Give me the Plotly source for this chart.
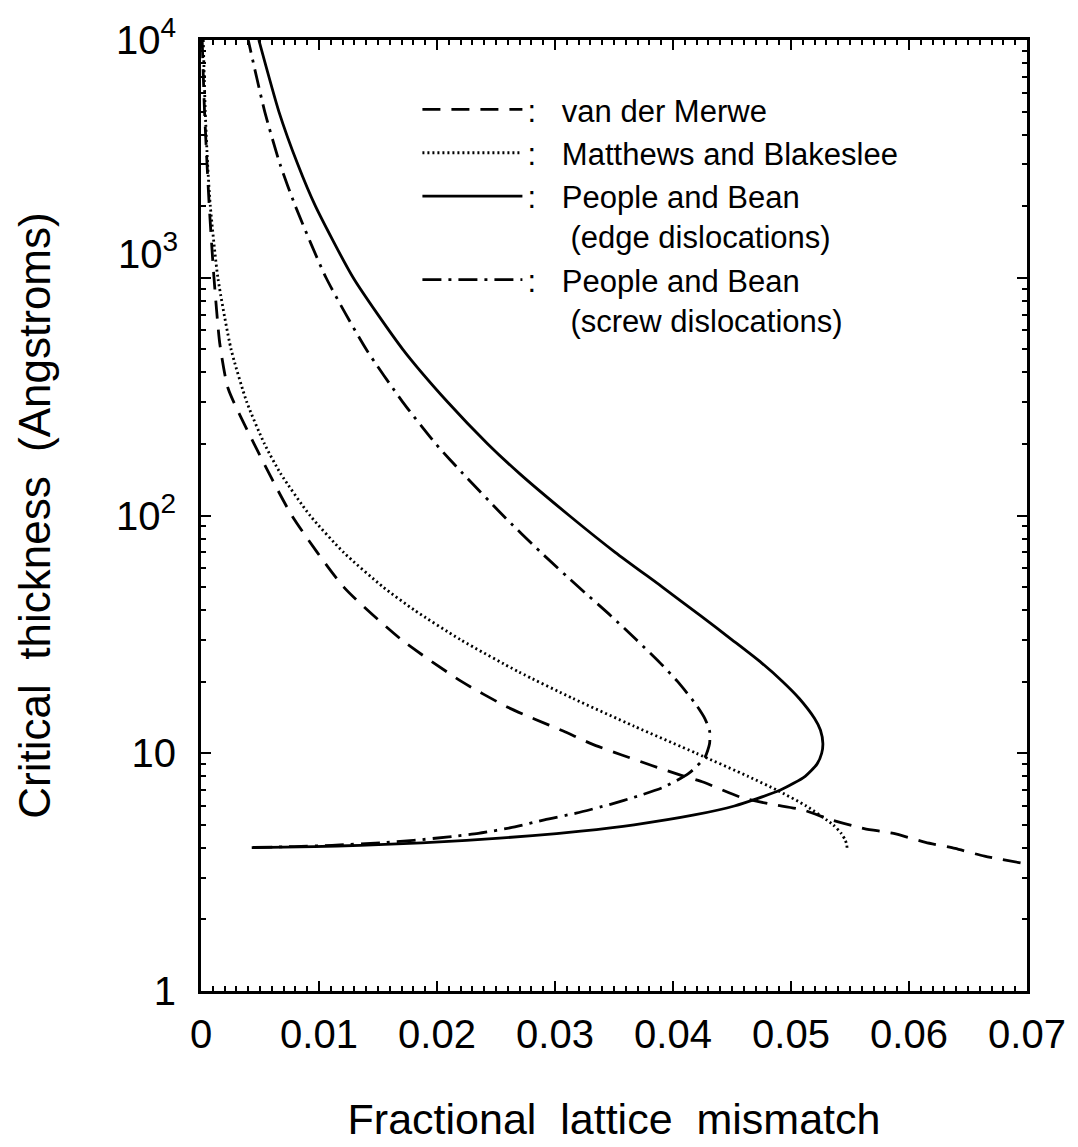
import plotly.graph_objects as go

# Critical thickness h_c (Angstroms) versus fractional lattice mismatch f
vdm_h = [10000, 5000, 2000, 1000, 525, 342, 200, 100, 50, 30, 20, 15.7, 13.9, 12.4,
         10.95, 9.86, 8.88, 8.07, 7.55, 6.54, 6.12, 5.78, 5.25, 4.82, 4.6, 4.22, 3.98,
         3.69, 3.42]
vdm_f = [0.0001, 0.0003, 0.0007, 0.0011, 0.0016, 0.0023, 0.0045, 0.0077, 0.0121, 0.0170,
         0.0221, 0.0259, 0.0283, 0.0307, 0.0331, 0.0356, 0.0382, 0.0407, 0.0426, 0.0457,
         0.0482, 0.0510, 0.0534, 0.0562, 0.0587, 0.0614, 0.0639, 0.0664, 0.0700]

mb_h = [10000, 5000, 3000, 2000, 1000, 500, 300, 200, 150, 100, 70, 50, 40, 30, 22,
        17, 13, 10, 8, 7, 6, 5, 4.6, 4.3, 4.1, 4.0]
mb_f = [0.00019, 0.00036, 0.00056, 0.00079, 0.00143, 0.00255, 0.00388, 0.00538, 0.00675,
        0.00924, 0.01208, 0.01544, 0.01808, 0.02201, 0.02692, 0.03152, 0.0367, 0.04197,
        0.04635, 0.0488, 0.0513, 0.05357, 0.05426, 0.05461, 0.05473, 0.05475]

edge_h = [4.01, 4.05, 4.1, 4.2, 4.3, 4.5, 4.7, 5, 5.5, 6, 7, 8, 9, 10, 11, 12.5, 14, 17,
          20, 24, 30, 38, 50, 70, 100, 150, 200, 300, 500, 1000, 2000, 3000, 5000, 10000]
edge_f = [0.0043, 0.0096, 0.0135, 0.0187, 0.0225, 0.0281, 0.0322, 0.0367, 0.0418, 0.0452,
          0.0491, 0.0512, 0.0522, 0.0526, 0.0527, 0.0525, 0.0520, 0.0507, 0.0493, 0.0475,
          0.0450, 0.0423, 0.0391, 0.0351, 0.0312, 0.0270, 0.0243, 0.0209, 0.0171, 0.0129,
          0.0097, 0.0082, 0.0066, 0.0049]

screw_h = [4.015, 4.05, 4.1, 4.2, 4.3, 4.45, 4.6, 4.9, 5.25, 5.6, 6.1, 6.6, 7.2, 8.2, 9.6,
           11, 12.4, 14, 15.9, 20, 24, 30, 38, 50, 70, 100, 150, 200, 300, 500, 1000, 2000,
           3000, 5000, 10000]
screw_f = [0.0044, 0.0079, 0.0111, 0.0152, 0.0180, 0.0210, 0.0235, 0.0266, 0.0291, 0.0318,
           0.0347, 0.0370, 0.0392, 0.0413, 0.0427, 0.0431, 0.0431, 0.0427, 0.0420, 0.0404,
           0.0389, 0.0369, 0.0347, 0.0320, 0.0288, 0.0256, 0.0222, 0.0199, 0.0171, 0.0140,
           0.0106, 0.0080, 0.0067, 0.0054, 0.0040]

x_ticks = [0, 0.01, 0.02, 0.03, 0.04, 0.05, 0.06, 0.07]
x_ticktext = ["0", "0.01", "0.02", "0.03", "0.04", "0.05", "0.06", "0.07"]
y_ticks = [1, 10, 100, 1000, 10000]
y_ticktext = ["1", "10", "10<sup>2</sup>", "10<sup>3</sup>", "10<sup>4</sup>"]
y_minor = [m * 10 ** d for d in range(4) for m in range(2, 10)]

NB = "\u00a0"
names = [
    ":" + NB * 3 + "van der Merwe",
    ":" + NB * 3 + "Matthews and Blakeslee",
    ":" + NB * 3 + "People and Bean<br>" + NB * 5 + "(edge dislocations)",
    ":" + NB * 3 + "People and Bean<br>" + NB * 5 + "(screw dislocations)",
]
series = [
    (vdm_f, vdm_h, "18px,11px"),
    (mb_f, mb_h, "2px,3px"),
    (edge_f, edge_h, "solid"),
    (screw_f, screw_h, "19px,7px,3px,7px"),
]

FONT = "Liberation Sans"
TICK_SIZE = 40
fig = go.Figure()
for (xs, ys, dash), name in zip(series, names):
    fig.add_trace(go.Scatter(
        x=xs, y=ys, mode="lines", name=name,
        line=dict(color="black", width=2.8, dash=dash, shape="spline", smoothing=0.6),
    ))

axis_common = dict(
    showline=True, linecolor="black", linewidth=3, mirror="ticks",
    ticks="inside", tickcolor="black", tickwidth=2, ticklen=10,
    showgrid=False, zeroline=False,
    tickfont=dict(family=FONT, size=TICK_SIZE, color="black"),
)

fig.update_xaxes(
    range=[0, 0.07], tickvals=x_ticks, ticktext=x_ticktext,
    minor=dict(ticks="inside", dtick=0.001, ticklen=5, tickwidth=2, tickcolor="black", showgrid=False),
    ticklabelstandoff=6,
    title=dict(text="Fractional " + NB + "lattice " + NB + "mismatch",
               font=dict(family=FONT, size=43, color="black"), standoff=49),
    **axis_common,
)

# the 10^3 label sits a little above its tick, so it is placed on its own
shown_y_text = [t if v != 1000 else "" for v, t in zip(y_ticks, y_ticktext)]
fig.update_yaxes(
    type="log", range=[0, 4], tickvals=y_ticks, ticktext=shown_y_text,
    minor=dict(ticks="inside", tickvals=y_minor, ticklen=5, tickwidth=2, tickcolor="black", showgrid=False),
    ticklabelstandoff=14,
    title=dict(text="Critical " + NB + "thickness " + NB + "(Angstroms)",
               font=dict(family=FONT, size=44, color="black"), standoff=52),
    **axis_common,
)
fig.add_annotation(
    x=0, xref="paper", xanchor="right", xshift=-21,
    y=3, yref="y", yanchor="middle", yshift=27,
    text=y_ticktext[y_ticks.index(1000)], showarrow=False,
    font=dict(family=FONT, size=TICK_SIZE, color="black"),
)

fig.update_layout(
    width=1078, height=1147,
    margin=dict(l=201, r=46, t=31, b=150),
    paper_bgcolor="white", plot_bgcolor="white",
    showlegend=True,
    legend=dict(
        x=0.262, y=0.955, xanchor="left", yanchor="top",
        bgcolor="rgba(0,0,0,0)", borderwidth=0,
        font=dict(family=FONT, size=31, color="black"),
        itemwidth=100, valign="top", tracegroupgap=0,
    ),
)

fig.write_html("out.html")
